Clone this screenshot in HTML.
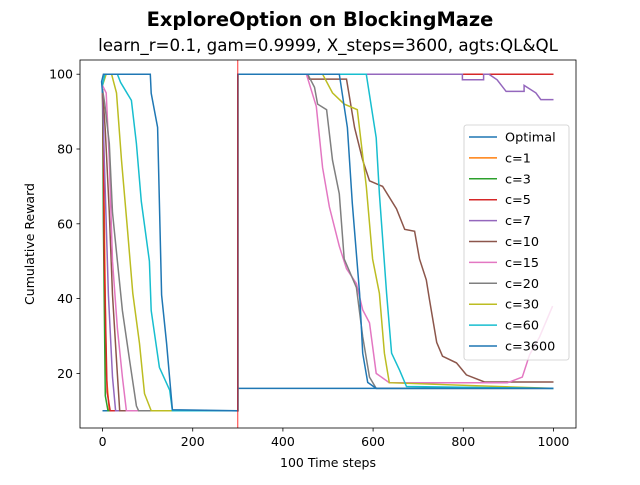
<!DOCTYPE html>
<html><head><meta charset="utf-8"><style>
body{margin:0;background:#fff}
svg text{font-family:"DejaVu Sans","Liberation Sans",sans-serif;fill:#000}
</style></head><body>
<svg id="c" width="640" height="480" viewBox="0 0 640 480" xmlns="http://www.w3.org/2000/svg">
<rect width="640" height="480" fill="#fff"/>
<text x="320" y="26" text-anchor="middle" font-size="19.4" font-weight="bold">ExploreOption on BlockingMaze</text>
<text x="328" y="51" text-anchor="middle" font-size="16.7">learn_r=0.1, gam=0.9999, X_steps=3600, agts:QL&amp;QL</text>
<g id="plot"></g>
</svg>
<script>
const seriesNames=["Optimal","c=1","c=3","c=5","c=7","c=10","c=15","c=20","c=30","c=60","c=3600"];
const colors=["#1f77b4","#ff7f0e","#2ca02c","#d62728","#9467bd","#8c564b","#e377c2","#7f7f7f","#bcbd22","#17becf","#1f77b4"];
const xTicks=[0,200,400,600,800,1000];
const yTicks=[20,40,60,80,100];
const sOptimal=[[0,10],[300,10],[300,16],[1000,16]];
const sC1=[[0,95],[3,70],[8,20],[15,10],[300,10],[300,100],[1000,100]];
const sC3=[[0,96],[2,60],[6,14],[12,10],[300,10],[300,100],[1000,100]];
const sC5=[[0,95],[1,91],[4,50],[10,15],[17,10],[300,10],[300,100],[1000,100]];
const sC7=[[0,95],[4,77],[13,41],[22,19],[29,10],[300,10],[300,100],[798,100],[798,98.5],[845,98.5],[845,100],[857,100],[875,98.5],[895,95.4],[935,95.4],[935,97],[961,95],[972,93.2],[1000,93.2]];
const sC10=[[0,96],[6,85],[15,63],[22,41],[31,23.5],[38,10],[300,10],[300,100],[455,100],[459,98.7],[541,98.7],[559,85.7],[577,77],[592,71.5],[621,70],[652,64],[670,58.5],[692,58],[703,50.6],[718,45],[725,39.7],[741,28.3],[754,24.6],[785,22.8],[807,19.6],[847,17.7],[1000,17.7]];
const sC15=[[0,97],[8,95],[15,77],[22,50],[33,32],[44,19],[53,10],[300,10],[300,100],[452,100],[474,91.4],[488,75],[503,64.5],[525,54],[541,48],[563,44],[577,37],[592,33.5],[607,20],[636,17.5],[898,17.5],[931,19],[947,25],[969,29.7],[998,38]];
const sC20=[[0,96],[5,92],[15,81.5],[22,63],[33,50],[44,36.8],[60,23.5],[75,11.3],[80,10],[300,10],[300,100],[455,100],[470,96.5],[477,92],[497,90.5],[510,77],[525,68],[536,50.6],[563,43],[577,29.8],[592,19],[607,16],[1000,16]];
const sC30=[[0,97],[8,100],[20,100],[31,95],[42,77],[55,59],[67,41.4],[82,28],[93,14.6],[108,10],[300,10],[300,100],[488,100],[510,95],[536,92],[565,90.5],[585,70],[599,50.6],[614,41.4],[625,25.4],[636,17.5],[1000,16]];
const sC60=[[0,97],[5,100],[33,100],[40,97.8],[64,93],[75,81.5],[86,66],[104,50],[108,36.8],[126,21.6],[149,15.5],[155,10],[300,10],[300,100],[585,100],[607,83],[614,68],[630,41.4],[641,25.4],[659,20.8],[674,16.5],[1000,16]];
const sC3600=[[0,95],[-2,98],[2,100],[106,100],[108,94.9],[122,85.8],[131,41],[142,28],[155,10.3],[300,10],[300,100],[525,100],[543,85.7],[554,65.5],[570,41.4],[577,25.4],[588,17.6],[607,16],[1000,16]];
const allSeries=[sOptimal,sC1,sC3,sC5,sC7,sC10,sC15,sC20,sC30,sC60,sC3600];

const L=80,R=576,T=60,B=428,X0=-50,X1=1050,Y0=5.4,Y1=103.8;
const sx=v=>L+(v-X0)/(X1-X0)*(R-L);
const sy=v=>B-(v-Y0)/(Y1-Y0)*(B-T);
const NS="http://www.w3.org/2000/svg";
const g=document.getElementById('plot');
function mk(tag,attrs,parent){const e=document.createElementNS(NS,tag);for(const k in attrs)e.setAttribute(k,attrs[k]);(parent||g).appendChild(e);return e;}
const clip=mk('clipPath',{id:'cp'});mk('rect',{x:L,y:T,width:R-L,height:B-T},clip);
const lines=mk('g',{'clip-path':'url(#cp)'});


allSeries.forEach((s,i)=>{
  const p=mk('polyline',{points:s.map(d=>sx(d[0]).toFixed(1)+','+sy(d[1]).toFixed(1)).join(' '),fill:'none',stroke:colors[i],'stroke-width':1.5,'stroke-linejoin':'miter'},lines);
  
  
});
const vl=mk('line',{x1:sx(300),x2:sx(300),y1:T,y2:B,stroke:'#ff0000','stroke-width':0.8},lines);


const frame=mk('rect',{x:L,y:T,width:R-L,height:B-T,fill:'none',stroke:'#000','stroke-width':0.8});


xTicks.forEach(v=>{
  const t=mk('line',{x1:sx(v),x2:sx(v),y1:B,y2:B+3.5,stroke:'#000','stroke-width':0.8});
  
  
  const l=mk('text',{x:sx(v),y:B+18,'text-anchor':'middle','font-size':12.5});l.textContent=v;
  
  
});
yTicks.forEach(v=>{
  const t=mk('line',{x1:L-3.5,x2:L,y1:sy(v),y2:sy(v),stroke:'#000','stroke-width':0.8});
  
  
  const l=mk('text',{x:L-7,y:sy(v)+4.5,'text-anchor':'end','font-size':12.5});l.textContent=v;
  
  
});
const xt=mk('text',{x:328,y:467,'text-anchor':'middle','font-size':12.5});xt.textContent='100 Time steps';


const yt=mk('text',{x:34,y:244,'text-anchor':'middle','font-size':12.5,transform:'rotate(-90 34 244)'});yt.textContent='Cumulative Reward';


const lg=mk('g',{});


mk('rect',{x:464,y:125,width:105,height:235,rx:2.5,fill:'#fff','fill-opacity':0.8,stroke:'#ccc','stroke-width':0.8},lg);
seriesNames.forEach((n,i)=>{
  const y=137+i*20.9;
  const h=mk('line',{x1:469,x2:497,y1:y,y2:y,stroke:colors[i],'stroke-width':1.5},lg);
  
  
  const t=mk('text',{x:505,y:y+4.5,'font-size':12.8},lg);t.textContent=n;
  
  
});
</script>
</body></html>
